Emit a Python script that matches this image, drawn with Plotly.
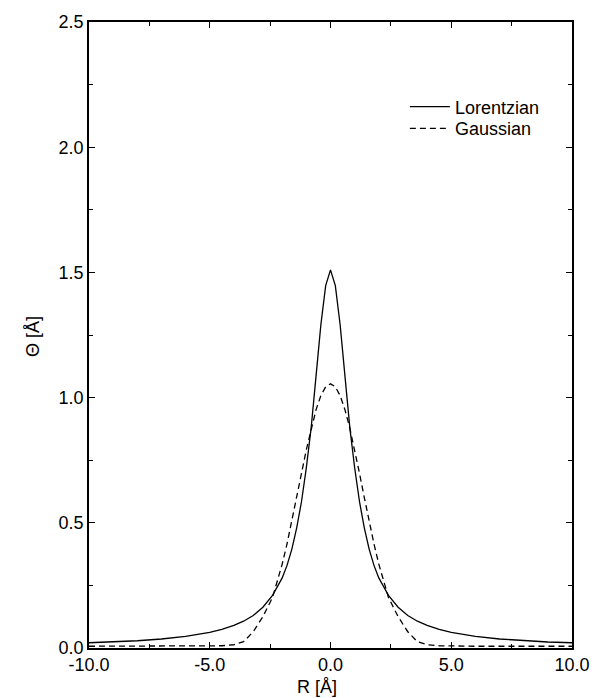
import plotly.graph_objects as go

# Data
R_vals = [-10.0, -9.0, -8.0, -7.0, -6.0, -5.0, -4.5, -4.0, -3.6, -3.2, -2.8, -2.4, -2.0, -1.8, -1.6,
          -1.4, -1.2, -1.0, -0.8, -0.6, -0.4, -0.2, 0.0, 0.2, 0.4, 0.6, 0.8, 1.0, 1.2, 1.4, 1.6,
          1.8, 2.0, 2.4, 2.8, 3.2, 3.6, 4.0, 4.5, 5.0, 6.0, 7.0, 8.0, 9.0, 10.0]

lorentzian = [0.021, 0.024, 0.029, 0.036, 0.046, 0.062, 0.074, 0.090, 0.107, 0.130, 0.163, 0.210,
              0.280, 0.330, 0.395, 0.480, 0.585, 0.720, 0.880, 1.085, 1.290, 1.447, 1.510, 1.447,
              1.290, 1.085, 0.880, 0.720, 0.585, 0.480, 0.395, 0.330, 0.280, 0.210, 0.163, 0.130,
              0.107, 0.090, 0.074, 0.062, 0.046, 0.036, 0.029, 0.024, 0.021]

gaussian = [0.007, 0.007, 0.007, 0.007, 0.007, 0.008, 0.009, 0.013, 0.025, 0.065, 0.125, 0.202,
            0.335, 0.416, 0.506, 0.601, 0.698, 0.792, 0.878, 0.951, 1.008, 1.043, 1.055, 1.043,
            1.008, 0.951, 0.878, 0.792, 0.698, 0.601, 0.506, 0.416, 0.335, 0.202, 0.125, 0.065,
            0.025, 0.013, 0.009, 0.008, 0.007, 0.007, 0.007, 0.007, 0.007]

x_ticks = [-10.0, -5.0, 0.0, 5.0, 10.0]
x_tick_text = ["-10.0", "-5.0", "0.0", "5.0", "10.0"]
y_ticks = [0.0, 0.5, 1.0, 1.5, 2.0, 2.5]
y_tick_text = ["0.0", "0.5", "1.0", "1.5", "2.0", "2.5"]

FONT = "Liberation Sans, Arial, Helvetica, sans-serif"

fig = go.Figure()
fig.add_trace(go.Scatter(x=R_vals, y=lorentzian, mode="lines", name="Lorentzian",
                         line=dict(color="black", width=1.3), legend="legend"))
fig.add_trace(go.Scatter(x=R_vals, y=gaussian, mode="lines", name="Gaussian",
                         line=dict(color="black", width=1.3, dash="6px,4px"), legend="legend2"))

axis_common = dict(showline=True, linecolor="black", linewidth=1.5, mirror="ticks",
                   ticks="inside", ticklen=6, tickwidth=1.2, tickcolor="black",
                   showgrid=False, zeroline=False,
                   tickfont=dict(family=FONT, size=18, color="black"))

fig.update_xaxes(range=[-10, 10], tickvals=x_ticks, ticktext=x_tick_text,
                 minor=dict(dtick=2.5, ticks="inside", ticklen=4, tickcolor="black", tickwidth=1),
                 **axis_common)
fig.update_yaxes(range=[0, 2.5], tickvals=y_ticks, ticktext=y_tick_text,
                 minor=dict(dtick=0.25, ticks="inside", ticklen=4, tickcolor="black", tickwidth=1),
                 **axis_common)

legend_common = dict(xanchor="left", yanchor="top", bgcolor="rgba(0,0,0,0)",
                     font=dict(family=FONT, size=18, color="black"), itemwidth=40)

fig.update_layout(
    width=602, height=698,
    margin=dict(l=89, r=26, t=15, b=50),
    paper_bgcolor="white", plot_bgcolor="white",
    font=dict(family=FONT, size=18, color="black"),
    showlegend=True,
    legend=dict(x=0.654, y=0.894, **legend_common),
    legend2=dict(x=0.654, y=0.859, **legend_common),
    annotations=[
        dict(text="R [Å]", xref="paper", yref="paper", x=(319 - 89) / 487, y=-0.063,
             xanchor="center", yanchor="middle", showarrow=False,
             font=dict(family=FONT, size=18, color="black")),
        dict(text="Θ [Å]", xref="paper", yref="paper", x=-0.115, y=(648 - 333) / 633,
             xanchor="center", yanchor="middle", showarrow=False, textangle=-90,
             font=dict(family=FONT, size=18, color="black")),
    ],
)

fig.write_html("out.html")
